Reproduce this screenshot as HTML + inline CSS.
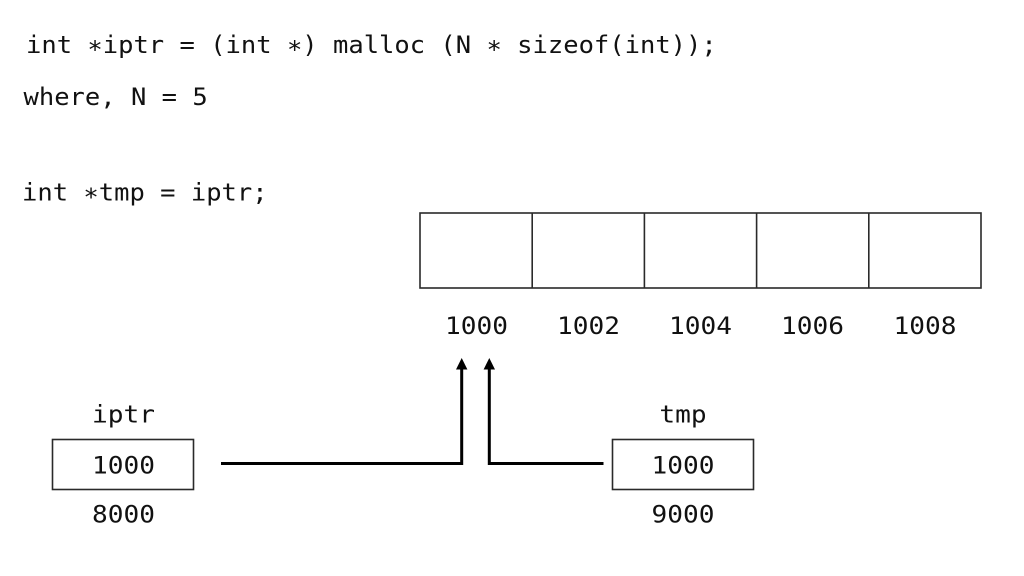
<!DOCTYPE html>
<html>
<head>
<meta charset="utf-8">
<style>
  html, body { margin: 0; padding: 0; background: #ffffff; }
  body { width: 1024px; height: 576px; overflow: hidden; }
  svg { display: block; }
  text { font-family: "DejaVu Sans Mono", "Liberation Mono", monospace; font-size: 24px; fill: #111; }
</style>
</head>
<body>
<svg width="1024" height="576" viewBox="0 0 1024 576" xmlns="http://www.w3.org/2000/svg">
  <rect width="1024" height="576" fill="#ffffff"/>

  <!-- code lines -->
  <text transform="translate(26,53) scale(1.063,1)">int <tspan dy="5">*</tspan><tspan dy="-5">iptr = (int </tspan><tspan dy="5">*</tspan><tspan dy="-5">) malloc (N </tspan><tspan dy="5">*</tspan><tspan dy="-5"> sizeof(int));</tspan></text>
  <text transform="translate(23.5,105) scale(1.063,1)">where, N = 5</text>
  <text transform="translate(22,200.5) scale(1.063,1)">int <tspan dy="5">*</tspan><tspan dy="-5">tmp = iptr;</tspan></text>

  <!-- memory array -->
  <g fill="none" stroke="#2a2a2a" stroke-width="1.6">
    <rect x="420" y="213" width="561" height="75"/>
    <line x1="532.2" y1="213" x2="532.2" y2="288"/>
    <line x1="644.4" y1="213" x2="644.4" y2="288"/>
    <line x1="756.6" y1="213" x2="756.6" y2="288"/>
    <line x1="868.8" y1="213" x2="868.8" y2="288"/>
  </g>

  <g text-anchor="middle">
    <text transform="translate(476.5,334) scale(1.09,1)">1000</text>
    <text transform="translate(588.5,334) scale(1.09,1)">1002</text>
    <text transform="translate(700.5,334) scale(1.09,1)">1004</text>
    <text transform="translate(812.5,334) scale(1.09,1)">1006</text>
    <text transform="translate(925,334) scale(1.09,1)">1008</text>
  </g>

  <!-- iptr box -->
  <rect x="52.5" y="439.5" width="141" height="50" fill="none" stroke="#2a2a2a" stroke-width="1.6"/>
  <g text-anchor="middle">
    <text transform="translate(123.5,422.5) scale(1.09,1)">iptr</text>
    <text transform="translate(123.5,473.5) scale(1.09,1)">1000</text>
    <text transform="translate(123.5,522.5) scale(1.09,1)">8000</text>
  </g>

  <!-- tmp box -->
  <rect x="612.5" y="439.5" width="141" height="50" fill="none" stroke="#2a2a2a" stroke-width="1.6"/>
  <g text-anchor="middle">
    <text transform="translate(683,422.5) scale(1.09,1)">tmp</text>
    <text transform="translate(683,473.5) scale(1.09,1)">1000</text>
    <text transform="translate(683,522.5) scale(1.09,1)">9000</text>
  </g>

  <!-- connectors -->
  <g fill="none" stroke="#000" stroke-width="3">
    <polyline points="221,463.5 461.7,463.5 461.7,367"/>
    <polyline points="603.5,463.5 489.3,463.5 489.3,367"/>
  </g>
  <g fill="#000">
    <polygon points="461.7,358 456,369.5 467.4,369.5"/>
    <polygon points="489.3,358 483.6,369.5 495,369.5"/>
  </g>
</svg>
</body>
</html>
